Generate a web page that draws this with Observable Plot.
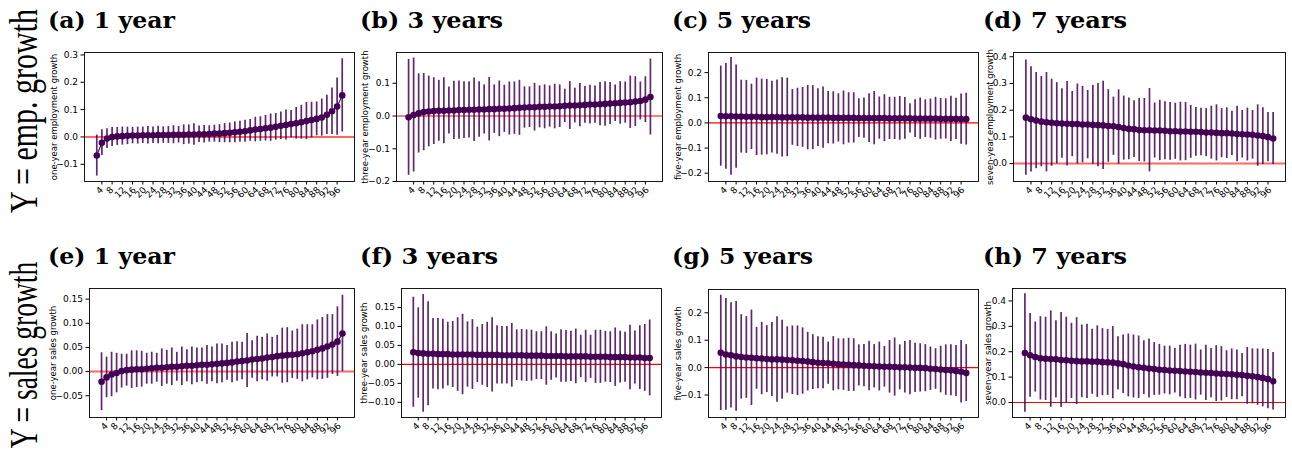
<!DOCTYPE html>
<html><head><meta charset="utf-8">
<script src="https://cdn.jsdelivr.net/npm/d3@7"></script>
<script src="https://cdn.jsdelivr.net/npm/@observablehq/plot@0.6"></script>
<style>
body{margin:0;background:#fff;}
#fig{position:relative;width:1292px;height:458px;overflow:hidden;background:#fff;}
#fig > svg{position:absolute;}
</style></head><body><div id="fig"></div>
<script>
// x categories (bin positions) and x tick labels
const xs = [2,4,6,8,10,12,14,16,18,20,22,24,26,28,30,32,34,36,38,40,42,44,46,48,50,52,54,56,58,60,62,64,66,68,70,72,74,76,78,80,82,84,86,88,90,92,94,96,98];
const xTicks = [4,8,12,16,20,24,28,32,36,40,44,48,52,56,60,64,68,72,76,80,84,88,92,96];

// (a) one-year employment growth
const emp1Mean = [-0.068,-0.021,-0.006,0.000,0.002,0.003,0.004,0.005,0.005,0.006,0.006,0.006,0.007,0.007,0.007,0.008,0.008,0.008,0.009,0.009,0.010,0.010,0.011,0.012,0.012,0.014,0.015,0.017,0.019,0.021,0.024,0.027,0.029,0.032,0.034,0.037,0.041,0.044,0.047,0.050,0.054,0.058,0.062,0.066,0.071,0.081,0.094,0.111,0.152];
const emp1Err = [0.075,0.047,0.036,0.035,0.033,0.033,0.032,0.030,0.031,0.030,0.032,0.030,0.032,0.030,0.031,0.033,0.030,0.036,0.035,0.039,0.030,0.032,0.030,0.031,0.033,0.035,0.036,0.038,0.038,0.040,0.040,0.045,0.045,0.047,0.050,0.049,0.050,0.055,0.050,0.058,0.062,0.068,0.065,0.062,0.068,0.072,0.085,0.105,0.134];
// (b) three-year employment growth
const emp3Mean = [-0.004,0.003,0.008,0.012,0.014,0.015,0.016,0.016,0.017,0.017,0.018,0.018,0.019,0.019,0.020,0.020,0.021,0.021,0.022,0.022,0.023,0.024,0.025,0.026,0.027,0.027,0.028,0.028,0.029,0.029,0.030,0.031,0.032,0.032,0.033,0.034,0.035,0.035,0.036,0.037,0.038,0.039,0.040,0.041,0.042,0.044,0.046,0.050,0.058];
const emp3Err = [0.177,0.174,0.121,0.118,0.108,0.102,0.093,0.101,0.072,0.089,0.089,0.087,0.086,0.097,0.085,0.075,0.097,0.074,0.085,0.072,0.081,0.080,0.084,0.063,0.062,0.073,0.064,0.067,0.063,0.068,0.065,0.051,0.073,0.053,0.066,0.056,0.059,0.057,0.066,0.068,0.064,0.056,0.065,0.063,0.080,0.076,0.058,0.070,0.116];
// (c) five-year employment growth
const emp5Mean = [0.027,0.026,0.026,0.025,0.025,0.024,0.024,0.024,0.023,0.023,0.023,0.023,0.022,0.022,0.022,0.022,0.022,0.021,0.021,0.021,0.021,0.021,0.020,0.020,0.020,0.020,0.020,0.019,0.019,0.019,0.019,0.019,0.019,0.018,0.018,0.018,0.018,0.018,0.017,0.017,0.017,0.017,0.017,0.016,0.016,0.016,0.016,0.015,0.015];
const emp5Err = [0.199,0.210,0.234,0.205,0.145,0.145,0.130,0.154,0.151,0.150,0.143,0.148,0.158,0.156,0.111,0.116,0.119,0.128,0.127,0.115,0.122,0.104,0.104,0.096,0.107,0.100,0.100,0.077,0.080,0.097,0.106,0.084,0.093,0.084,0.084,0.087,0.083,0.058,0.075,0.082,0.075,0.078,0.085,0.081,0.080,0.090,0.082,0.100,0.103];
// (d) seven-year employment growth
const emp7Mean = [0.172,0.166,0.161,0.157,0.155,0.153,0.151,0.150,0.149,0.148,0.148,0.146,0.146,0.145,0.144,0.143,0.141,0.140,0.137,0.133,0.130,0.129,0.126,0.125,0.125,0.124,0.124,0.123,0.121,0.121,0.120,0.120,0.119,0.119,0.118,0.116,0.116,0.115,0.114,0.114,0.113,0.111,0.110,0.109,0.108,0.105,0.103,0.099,0.094];
const emp7Err = [0.216,0.197,0.180,0.169,0.186,0.163,0.152,0.130,0.158,0.122,0.150,0.143,0.128,0.148,0.156,0.165,0.136,0.109,0.139,0.120,0.116,0.106,0.118,0.119,0.156,0.103,0.113,0.109,0.108,0.105,0.110,0.109,0.099,0.091,0.089,0.090,0.099,0.105,0.092,0.095,0.083,0.104,0.089,0.099,0.091,0.115,0.106,0.092,0.097];
// (e) one-year sales growth
const sal1Mean = [-0.021,-0.012,-0.006,-0.003,0.001,0.003,0.004,0.005,0.005,0.006,0.007,0.008,0.008,0.009,0.010,0.010,0.011,0.012,0.012,0.013,0.014,0.014,0.015,0.016,0.017,0.018,0.019,0.021,0.022,0.023,0.025,0.026,0.027,0.029,0.030,0.032,0.033,0.034,0.035,0.036,0.038,0.040,0.042,0.045,0.048,0.052,0.056,0.062,0.079];
const sal1Err = [0.060,0.042,0.046,0.041,0.035,0.033,0.039,0.038,0.037,0.032,0.033,0.030,0.039,0.035,0.039,0.030,0.040,0.033,0.039,0.036,0.035,0.040,0.036,0.041,0.040,0.036,0.042,0.041,0.039,0.056,0.039,0.047,0.044,0.049,0.041,0.043,0.057,0.057,0.049,0.052,0.059,0.057,0.055,0.062,0.064,0.066,0.062,0.072,0.079];
// (f) three-year sales growth
const sal3Mean = [0.032,0.030,0.029,0.028,0.028,0.027,0.027,0.027,0.026,0.026,0.026,0.026,0.026,0.025,0.025,0.025,0.025,0.025,0.024,0.024,0.024,0.024,0.024,0.023,0.023,0.023,0.023,0.022,0.022,0.022,0.022,0.021,0.021,0.021,0.021,0.021,0.020,0.020,0.020,0.020,0.019,0.019,0.019,0.019,0.018,0.018,0.018,0.017,0.017];
const sal3Err = [0.145,0.119,0.155,0.137,0.093,0.094,0.092,0.084,0.087,0.097,0.106,0.086,0.092,0.073,0.080,0.086,0.098,0.077,0.076,0.076,0.084,0.067,0.068,0.068,0.067,0.063,0.063,0.077,0.064,0.058,0.069,0.068,0.066,0.072,0.056,0.069,0.057,0.070,0.070,0.067,0.067,0.077,0.068,0.066,0.085,0.070,0.084,0.088,0.100];
// (g) five-year sales growth
const sal5Mean = [0.054,0.048,0.045,0.041,0.039,0.037,0.036,0.034,0.033,0.031,0.030,0.030,0.029,0.028,0.027,0.025,0.024,0.022,0.020,0.018,0.017,0.016,0.014,0.012,0.011,0.010,0.009,0.008,0.007,0.006,0.005,0.004,0.003,0.003,0.002,0.001,0.001,0.000,-0.001,-0.001,-0.002,-0.004,-0.005,-0.007,-0.009,-0.010,-0.012,-0.015,-0.020];
const sal5Err = [0.210,0.204,0.192,0.200,0.154,0.149,0.174,0.113,0.132,0.122,0.135,0.156,0.144,0.121,0.125,0.127,0.121,0.107,0.100,0.095,0.094,0.077,0.099,0.093,0.094,0.097,0.096,0.075,0.077,0.090,0.079,0.089,0.074,0.096,0.106,0.082,0.094,0.099,0.090,0.088,0.086,0.079,0.074,0.085,0.092,0.093,0.093,0.114,0.104];
// (h) seven-year sales growth
const sal7Mean = [0.195,0.186,0.179,0.174,0.172,0.171,0.170,0.167,0.166,0.164,0.163,0.162,0.162,0.161,0.161,0.159,0.158,0.157,0.154,0.151,0.146,0.142,0.139,0.137,0.134,0.132,0.129,0.128,0.126,0.125,0.124,0.122,0.121,0.120,0.118,0.117,0.116,0.114,0.113,0.112,0.111,0.109,0.108,0.105,0.103,0.100,0.097,0.092,0.084];
const sal7Err = [0.233,0.165,0.138,0.164,0.164,0.190,0.152,0.187,0.170,0.148,0.171,0.143,0.146,0.128,0.141,0.132,0.130,0.142,0.105,0.115,0.124,0.124,0.123,0.106,0.116,0.104,0.100,0.094,0.096,0.088,0.102,0.107,0.105,0.110,0.089,0.109,0.097,0.110,0.107,0.092,0.100,0.098,0.085,0.112,0.108,0.111,0.114,0.117,0.113];

// text
const titles = ["(a) 1 year","(b) 3 years","(c) 5 years","(d) 7 years","(e) 1 year","(f) 3 years","(g) 5 years","(h) 7 years"];
const yLabels = ["one-year employment growth","three-year employment growth","five-year employment growth","seven-year employment growth",
                 "one-year sales growth","three-year sales growth","five-year sales growth","seven-year sales growth"];
const rowLabels = ["emp. growth","sales growth"];
const yTicks = [
  [-0.1,0,0.1,0.2,0.3],[-0.2,-0.1,0,0.1],[-0.2,-0.1,0,0.1,0.2],[0,0.1,0.2,0.3,0.4],
  [-0.05,0,0.05,0.1,0.15],[-0.1,-0.05,0,0.05,0.1,0.15],[-0.1,0,0.1,0.2],[0,0.1,0.2,0.3,0.4]
];
const yDecimals = [1,1,1,1,2,2,1,1];
const means = [emp1Mean,emp3Mean,emp5Mean,emp7Mean,sal1Mean,sal3Mean,sal5Mean,sal7Mean];
const errs = [emp1Err,emp3Err,emp5Err,emp7Err,sal1Err,sal3Err,sal5Err,sal7Err];

// layout (styles / positions)
const layout = [
  {frame:[84,52,354,181],  dom:[-0.163,0.309], tx:48,  ty:28,  tw:127, lab:30, zc:"#ff6666", zw:2},
  {frame:[396,52,662,181], dom:[-0.200,0.194], tx:360, ty:28,  tw:143, lab:31, zc:"#ff0000", zw:1.2},
  {frame:[708,52,978,181], dom:[-0.233,0.280], tx:672, ty:28,  tw:139, lab:30.5, zc:"#ff0000", zw:1.2},
  {frame:[1013,52,1285,181],dom:[-0.067,0.416],tx:983, ty:28,  tw:144, lab:23.5, zc:"#ff6666", zw:2},
  {frame:[89,288,354,417], dom:[-0.095,0.172], tx:48,  ty:264, tw:127, lab:36, zc:"#ff6666", zw:2},
  {frame:[401,288,661,417],dom:[-0.140,0.200], tx:360, ty:264, tw:138, lab:37, zc:"#ff0000", zw:1.2},
  {frame:[708,289,978,417],dom:[-0.182,0.285], tx:672, ty:264, tw:141, lab:30.5, zc:"#ff0000", zw:1.2},
  {frame:[1012,288,1285,417],dom:[-0.059,0.449],tx:983,ty:264, tw:144, lab:24, zc:"#ff0000", zw:1.2}
];

const fig = document.getElementById("fig");
const mL = 50, mR = 6, mT = 6, mB = 32;
const purple = "#440154";

for (let k = 0; k < 8; k++) {
  const L = layout[k];
  const [x0,y0,x1,y1] = L.frame;
  const rows = xs.map((x,i) => ({x, m: means[k][i], lo: means[k][i]-errs[k][i], hi: means[k][i]+errs[k][i]}));
  const dec = yDecimals[k];
  const fmt = d => (d < -1e-9 ? "\u2212" : "") + Math.abs(d).toFixed(dec);
  const short = xTicks.filter(t => t < 10), long = xTicks.filter(t => t >= 10);
  const svg = Plot.plot({
    width: (x1-x0)+mL+mR, height: (y1-y0)+mT+mB,
    marginLeft: mL, marginRight: mR, marginTop: mT, marginBottom: mB,
    x: {domain: [-2.8, 102.8]},
    y: {domain: L.dom},
    style: {fontFamily: "DejaVu Sans", fontSize: "9px", color: "#000", background: "transparent", overflow: "visible"},
    marks: [
      Plot.ruleY([0], {stroke: L.zc, strokeWidth: L.zw}),
      Plot.ruleX(rows, {x: "x", y1: "lo", y2: "hi", stroke: purple, strokeWidth: 1.7, strokeOpacity: 0.85}),
      Plot.line(rows, {x: "x", y: "m", stroke: purple, strokeWidth: 1.1}),
      Plot.dot(rows, {x: "x", y: "m", r: 3.3, fill: purple, stroke: "none"}),
      Plot.axisY({ticks: yTicks[k], tickSize: 3.5, tickPadding: 3, tickFormat: fmt, label: null}),
      Plot.axisX({ticks: xTicks, tickSize: 3.5, tickFormat: () => "", label: null}),
      Plot.text(short, {x: d => d, text: d => String(d), frameAnchor: "bottom", dy: 11, rotate: -45, fontSize: 9}),
      Plot.text(long, {x: d => d, text: d => String(d), frameAnchor: "bottom", dy: 13, rotate: -45, fontSize: 9}),
      Plot.text([yLabels[k]], {text: d => d, frameAnchor: "left", textAnchor: "middle", lineAnchor: "middle", dx: -L.lab, rotate: -90, fontSize: 8.5}),
      Plot.frame({stroke: "#000", strokeWidth: 0.9})
    ]
  });
  svg.style.left = (x0 - mL) + "px";
  svg.style.top = (y0 - mT) + "px";
  fig.appendChild(svg);
}

// overlay text: panel titles and row labels
const ov = d3.select(fig).append("svg")
  .attr("width", 1292).attr("height", 458)
  .style("left", "0px").style("top", "0px").style("pointer-events", "none");
layout.forEach((L, k) => {
  ov.append("text").attr("x", L.tx).attr("y", L.ty)
    .attr("font-family", "DejaVu Serif").attr("font-weight", "bold").attr("font-size", 22)
    .attr("textLength", L.tw).attr("lengthAdjust", "spacingAndGlyphs")
    .attr("fill", "#000").text(titles[k]);
});
// row labels: glyphs stretched across the baseline like the reference
const rowPos = [{cy:111, fs:30, sc:1.32}, {cy:355, fs:27.5, sc:1.44}];
rowLabels.forEach((s, r) => {
  const P = rowPos[r];
  const t = ov.append("text")
    .attr("transform", `translate(37,${P.cy}) rotate(-90) scale(1,${P.sc})`)
    .attr("text-anchor", "middle")
    .attr("font-family", "Liberation Serif").attr("font-size", P.fs)
    .attr("fill", "#000");
  t.append("tspan").text("Y = ");
  t.append("tspan").text(s);
});
</script></body></html>
